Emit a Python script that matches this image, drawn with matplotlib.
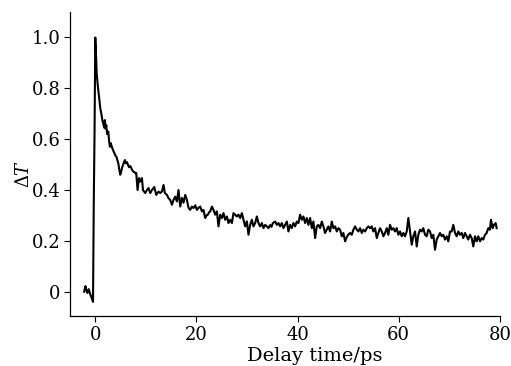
import matplotlib
matplotlib.use("Agg")
import matplotlib.pyplot as plt

# delay time (ps) and normalised transmission change
delay_ps = [
    -2.2, -1.95, -1.75, -1.55, -1.3, -1.0, -0.7, -0.45, -0.3, -0.15, 0.0,
    0.15, 0.27, 0.5, 0.72, 1.0, 1.2, 1.4, 1.6, 1.78, 1.9, 2.05, 2.17, 2.35, 2.57,
    2.75, 2.9, 3.05, 3.2, 3.45, 3.75, 4.0, 4.2, 4.4, 4.55, 4.75, 4.94, 5.15, 5.33,
    5.6, 5.86, 6.05, 6.26, 6.45, 6.65, 6.85, 7.05, 7.25, 7.5, 7.75, 7.96,
    8.10, 8.36, 8.64, 8.89, 9.23, 9.43, 9.88, 10.22, 10.53, 10.87, 11.21, 11.66,
    12.06, 12.51, 12.85, 13.18, 13.50, 13.77, 14.17, 14.49, 14.82, 15.16, 15.47,
    15.81, 16.15, 16.46, 16.80, 17.13, 17.45, 17.79, 18.12, 18.44, 18.77, 19.10,
    19.43, 19.77, 20.10, 20.42, 20.75, 21.09, 21.40, 21.74, 22.00, 22.27, 22.50,
    22.73, 23.06, 23.38, 23.72, 24.05, 24.37, 24.70, 25.04, 25.36, 25.69, 26.03,
    26.34, 26.68, 27.02, 27.33, 27.67, 28.00, 28.32, 28.66, 28.99, 29.31, 29.64,
    29.98, 30.30, 30.63, 30.97, 31.28, 31.62, 31.96, 32.27, 32.61, 32.94, 33.26,
    33.60, 33.93, 34.25, 34.58, 34.85, 35.12, 35.57, 35.91, 36.23, 36.56, 36.90,
    37.21, 37.55, 37.89, 38.20, 38.54, 38.87, 39.19, 39.53, 39.86, 40.18, 40.51,
    40.85, 41.17, 41.50, 41.84, 42.15, 42.49, 42.83, 43.14, 43.48, 43.81, 44.13,
    44.47, 44.80, 45.12, 45.45, 45.79, 46.11, 46.44, 46.78, 47.09, 47.43, 47.77,
    48.08, 48.42, 48.75, 49.07, 49.41, 49.74, 50.06, 50.40, 50.73, 51.05, 51.38,
    51.72, 52.04, 52.37, 52.71, 53.02, 53.36, 53.70, 54.01, 54.35, 54.68, 55.00,
    55.34, 55.67, 55.99, 56.32, 56.66, 56.98, 57.31, 57.65, 57.96, 58.30, 58.64,
    58.95, 59.29, 59.62, 59.94, 60.28, 60.61, 60.93, 61.26, 61.60, 61.92, 62.25,
    62.59, 62.90, 63.24, 63.58, 63.89, 64.23, 64.56, 64.88, 65.22, 65.55, 65.87,
    66.21, 66.54, 66.86, 67.19, 67.53, 67.85, 68.18, 68.52, 68.83, 69.17, 69.51,
    69.82, 70.16, 70.49, 70.81, 71.15, 71.48, 71.80, 72.13, 72.47, 72.79, 73.12,
    73.46, 73.77, 74.11, 74.45, 74.76, 75.10, 75.43, 75.75, 76.09, 76.42, 76.74,
    77.08, 77.41, 77.73, 78.06, 78.26, 78.60, 78.85, 79.19, 79.39,
]
delta_t = [
    0.0, 0.022, 0.005, -0.005, 0.01, -0.01, -0.025, -0.04, 0.35, 0.62, 1.0,
    0.93, 0.86, 0.81, 0.77, 0.72, 0.70, 0.675, 0.66, 0.645, 0.675, 0.64, 0.655, 0.62, 0.63,
    0.59, 0.57, 0.585, 0.575, 0.56, 0.546, 0.535, 0.53, 0.515, 0.506, 0.48, 0.46, 0.475, 0.49,
    0.505, 0.518, 0.505, 0.51, 0.50, 0.49, 0.495, 0.49, 0.48, 0.473, 0.47, 0.466,
    0.467, 0.40, 0.447, 0.433, 0.447, 0.40, 0.388, 0.40, 0.408, 0.388, 0.40, 0.412,
    0.381, 0.394, 0.388, 0.394, 0.42, 0.388, 0.381, 0.368, 0.361, 0.342, 0.361,
    0.374, 0.355, 0.40, 0.335, 0.369, 0.35, 0.381, 0.361, 0.33, 0.322, 0.335,
    0.329, 0.340, 0.322, 0.330, 0.335, 0.316, 0.322, 0.29, 0.300, 0.303, 0.312,
    0.316, 0.335, 0.322, 0.303, 0.316, 0.257, 0.303, 0.29, 0.309, 0.283, 0.296,
    0.27, 0.283, 0.27, 0.309, 0.303, 0.296, 0.303, 0.29, 0.309, 0.283, 0.257,
    0.277, 0.224, 0.263, 0.283, 0.257, 0.27, 0.296, 0.27, 0.257, 0.27, 0.25,
    0.263, 0.257, 0.25, 0.262, 0.255, 0.27, 0.276, 0.263, 0.27, 0.257, 0.27,
    0.25, 0.263, 0.276, 0.237, 0.263, 0.25, 0.27, 0.257, 0.276, 0.27, 0.303,
    0.283, 0.296, 0.27, 0.29, 0.263, 0.29, 0.25, 0.276, 0.211, 0.257, 0.263,
    0.25, 0.276, 0.257, 0.231, 0.244, 0.257, 0.237, 0.276, 0.25, 0.257, 0.237,
    0.25, 0.244, 0.218, 0.231, 0.198, 0.215, 0.225, 0.231, 0.224, 0.244, 0.257,
    0.244, 0.237, 0.25, 0.231, 0.244, 0.237, 0.25, 0.257, 0.25, 0.257, 0.237,
    0.25, 0.211, 0.231, 0.25, 0.237, 0.218, 0.231, 0.25, 0.224, 0.263, 0.244,
    0.25, 0.237, 0.25, 0.224, 0.237, 0.218, 0.231, 0.218, 0.237, 0.29, 0.237,
    0.185, 0.218, 0.237, 0.178, 0.224, 0.244, 0.237, 0.25, 0.224, 0.218, 0.244,
    0.237, 0.211, 0.224, 0.165, 0.205, 0.218, 0.231, 0.218, 0.224, 0.205, 0.218,
    0.198, 0.237, 0.237, 0.263, 0.231, 0.218, 0.237, 0.224, 0.231, 0.211, 0.231,
    0.218, 0.205, 0.224, 0.211, 0.178, 0.218, 0.198, 0.218, 0.198, 0.211, 0.205,
    0.224, 0.231, 0.25, 0.244, 0.283, 0.25, 0.263, 0.27, 0.25,
]

x_ticks = [0, 20, 40, 60, 80]
y_ticks = [0, 0.2, 0.4, 0.6, 0.8, 1.0]
y_tick_labels = ["0", "0.2", "0.4", "0.6", "0.8", "1.0"]

plt.rcParams['font.family'] = ['DejaVu Serif']
plt.rcParams['mathtext.fontset'] = 'dejavuserif'

fig = plt.figure(figsize=(5.11, 3.66), dpi=100)
ax = fig.add_axes([0.137, 0.137, 0.841, 0.830])

ax.plot(delay_ps, delta_t, color='black', lw=1.5)

ax.set_xlim(-5, 80)
ax.set_ylim(-0.095, 1.1)
ax.set_xticks(x_ticks)
ax.set_yticks(y_ticks)
ax.set_yticklabels(y_tick_labels)

for side in ['top', 'right']:
    ax.spines[side].set_visible(False)
for side in ['left', 'bottom']:
    ax.spines[side].set_linewidth(0.9)
ax.tick_params(direction='out', length=4, width=0.8, labelsize=13, pad=3)

ax.set_xlabel('Delay time/ps', fontsize=14)
ax.xaxis.set_label_coords(0.57, -0.102)
ax.set_ylabel(r'$\Delta T$', fontsize=13)
ax.yaxis.set_label_coords(-0.085, 0.467)

plt.savefig('out.png', dpi=100)
